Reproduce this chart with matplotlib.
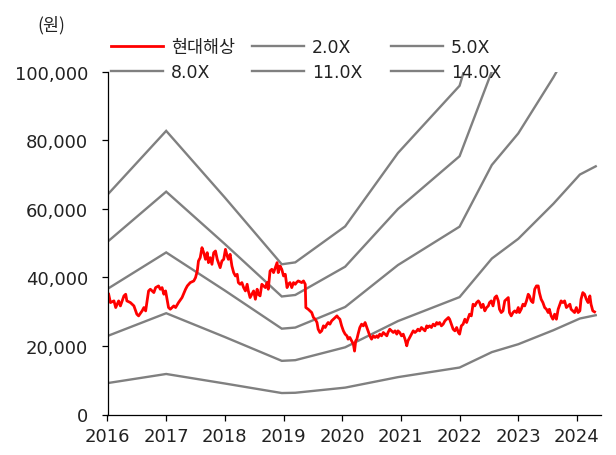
import matplotlib
matplotlib.use("Agg")
import matplotlib.pyplot as plt
from matplotlib.ticker import FuncFormatter

plt.rcParams['font.family'] = ['DejaVu Sans', 'Noto Sans CJK KR']

# ---------------- data ----------------
price_dates = [
    2016.02, 2016.05, 2016.11, 2016.14, 2016.19, 2016.22, 2016.28, 2016.31, 2016.33, 2016.39,
    2016.45, 2016.50, 2016.53, 2016.59, 2016.62, 2016.65, 2016.67, 2016.70, 2016.73, 2016.79,
    2016.82, 2016.87, 2016.90, 2016.93, 2016.96, 2016.99, 2017.02, 2017.04, 2017.07, 2017.13,
    2017.16, 2017.21, 2017.27, 2017.33, 2017.36, 2017.41, 2017.47, 2017.50, 2017.53, 2017.55,
    2017.58, 2017.61, 2017.64, 2017.67, 2017.70, 2017.72, 2017.75, 2017.78, 2017.81, 2017.84,
    2017.87, 2017.89, 2017.92, 2017.95, 2017.98, 2018.01, 2018.04, 2018.06, 2018.09, 2018.12,
    2018.15, 2018.18, 2018.21, 2018.23, 2018.26, 2018.29, 2018.32, 2018.35, 2018.38, 2018.40,
    2018.43, 2018.46, 2018.49, 2018.52, 2018.55, 2018.57, 2018.60, 2018.63, 2018.66, 2018.69,
    2018.72, 2018.74, 2018.77, 2018.80, 2018.83, 2018.86, 2018.89, 2018.91, 2018.94, 2018.97,
    2019.00, 2019.03, 2019.06, 2019.08, 2019.11, 2019.14, 2019.17, 2019.20, 2019.22, 2019.25,
    2019.31, 2019.34, 2019.37, 2019.38, 2019.42, 2019.45, 2019.48, 2019.51, 2019.54, 2019.57,
    2019.59, 2019.62, 2019.65, 2019.68, 2019.71, 2019.74, 2019.76, 2019.79, 2019.82, 2019.85,
    2019.88, 2019.91, 2019.93, 2019.96, 2019.99, 2020.02, 2020.05, 2020.08, 2020.10, 2020.13,
    2020.16, 2020.19, 2020.21, 2020.23, 2020.25, 2020.27, 2020.30, 2020.33, 2020.36, 2020.39,
    2020.42, 2020.44, 2020.47, 2020.50, 2020.53, 2020.56, 2020.59, 2020.61, 2020.64, 2020.67,
    2020.70, 2020.73, 2020.76, 2020.78, 2020.81, 2020.87, 2020.90, 2020.93, 2020.95, 2020.98,
    2021.01, 2021.04, 2021.07, 2021.10, 2021.12, 2021.15, 2021.18, 2021.21, 2021.24, 2021.27,
    2021.29, 2021.32, 2021.35, 2021.38, 2021.41, 2021.44, 2021.46, 2021.49, 2021.52, 2021.55,
    2021.58, 2021.61, 2021.63, 2021.66, 2021.69, 2021.72, 2021.75, 2021.78, 2021.81, 2021.83,
    2021.86, 2021.89, 2021.92, 2021.95, 2021.98, 2022.00, 2022.03, 2022.06, 2022.09, 2022.12,
    2022.15, 2022.17, 2022.20, 2022.23, 2022.26, 2022.29, 2022.32, 2022.34, 2022.37, 2022.40,
    2022.43, 2022.46, 2022.49, 2022.51, 2022.54, 2022.57, 2022.60, 2022.63, 2022.66, 2022.68,
    2022.71, 2022.74, 2022.77, 2022.80, 2022.83, 2022.85, 2022.88, 2022.91, 2022.94, 2022.97,
    2023.00, 2023.02, 2023.05, 2023.08, 2023.11, 2023.14, 2023.17, 2023.19, 2023.22, 2023.25,
    2023.28, 2023.31, 2023.34, 2023.36, 2023.39, 2023.42, 2023.45, 2023.48, 2023.51, 2023.53,
    2023.56, 2023.59, 2023.62, 2023.65, 2023.68, 2023.70, 2023.73, 2023.76, 2023.79, 2023.82,
    2023.85, 2023.88, 2023.90, 2023.93, 2023.96, 2023.99, 2024.02, 2024.05, 2024.07, 2024.10,
    2024.13, 2024.16, 2024.19, 2024.22, 2024.24, 2024.27, 2024.30,
]
price_values = [
    35080, 32650, 33140, 31200, 33140, 31680, 34600, 35080, 33140, 32650,
    31680, 29260, 28770, 30230, 31200, 30230, 32650, 36050, 36540, 35570,
    37020, 37510, 36540, 37020, 35080, 36050, 33140, 31200, 30710, 31680,
    31200, 32650, 34110, 36540, 37510, 38480, 38960, 39930, 41870, 44780,
    45750, 48670, 47210, 45270, 47210, 44300, 45750, 43810, 47210, 47700,
    45270, 44300, 42840, 44780, 45270, 48180, 46240, 45270, 46720, 43330,
    41390, 40420, 40900, 38480, 37990, 38480, 37020, 36050, 37990, 36050,
    34110, 35080, 36050, 33620, 36540, 35080, 34600, 37990, 37510, 37020,
    38480, 36540, 41870, 42360, 41390, 42840, 44300, 41390, 43330, 42360,
    40420, 40900, 37020, 37990, 38480, 37020, 38480, 37990, 38480, 38960,
    38480, 38960, 37990, 31200, 30710, 30230, 29740, 28290, 27800, 26830,
    24890, 23920, 24400, 25860, 25380, 26350, 26830, 26350, 27320, 27800,
    28290, 28770, 28290, 27800, 25860, 24400, 23440, 22950, 21980, 22470,
    21490, 20520, 18500, 21490, 21980, 23440, 25380, 26350, 25860, 26830,
    25380, 24400, 22950, 21980, 22950, 22470, 22950, 22470, 23440, 22950,
    23920, 23440, 22950, 23920, 24890, 23920, 24400, 23440, 24400, 23920,
    22950, 23440, 21980, 20040, 21490, 22470, 23440, 24400, 23920, 24400,
    24890, 24400, 25380, 24890, 24400, 25860, 25380, 25860, 25380, 26350,
    25860, 26830, 26350, 26830, 25860, 26350, 27320, 27800, 28290, 27800,
    26350, 24890, 24400, 25380, 23920, 23440, 25860, 26350, 27800, 26830,
    28290, 29260, 28770, 32170, 31680, 32650, 33140, 32650, 31200, 32170,
    30230, 31200, 31680, 32650, 33140, 31680, 34110, 34600, 33140, 30710,
    29740, 30230, 33140, 33620, 34110, 29740, 28770, 29740, 30230, 29740,
    31200, 29740, 30710, 32170, 31680, 33140, 35080, 34600, 33140, 32650,
    36540, 37510, 37510, 35560, 33620, 32650, 31200, 30710, 29740, 30710,
    28770, 27800, 29260, 27800, 30710, 31680, 33140, 32650, 33140, 31200,
    31680, 32170, 30710, 30230, 29740, 31200, 29740, 30230, 33620, 35560,
    35080, 33620, 32650, 34600, 32170, 30230, 29940,
]

# trailing EPS
eps_dates = [2016.0, 2017.0, 2018.0, 2018.97, 2019.2, 2020.05, 2020.95,
             2022.0, 2022.55, 2023.0, 2023.6, 2024.05, 2024.32]
eps_values = [4580, 5910, 4520, 3130, 3170, 3920, 5450,
              6850, 9100, 10250, 12300, 14000, 14480]

multiples = [2.0, 5.0, 8.0, 11.0, 14.0]
band_labels = ['2.0X', '5.0X', '8.0X', '11.0X', '14.0X']
price_label = '현대해상'

years = list(range(2016, 2025))
yticks = [0, 20000, 40000, 60000, 80000, 100000]

# ---------------- figure ----------------
W, H = 616, 456
fig = plt.figure(figsize=(W / 100, H / 100), dpi=100)
ax = fig.add_axes([107.5 / W, 1 - 415.5 / H, (601 - 107.5) / W, (415.5 - 72.7) / H])

gray = '#808080'
band_lines = {}
for m, lab in zip(multiples, band_labels):
    ln, = ax.plot(eps_dates, [m * e for e in eps_values], color=gray, lw=1.7,
                  solid_joinstyle='miter', label=lab)
    band_lines[lab] = ln
price_line, = ax.plot(price_dates, price_values, color='#ff0000', lw=2.0, label=price_label)

ax.set_xlim(2016, 2024.41)
ax.set_ylim(0, 100000)
ax.set_xticks(years)
ax.set_xticklabels([str(y) for y in years])
ax.set_yticks(yticks)
ax.yaxis.set_major_formatter(FuncFormatter(lambda v, p: f'{int(v):,}'))

for s in ['top', 'right']:
    ax.spines[s].set_visible(False)
for s in ['left', 'bottom']:
    ax.spines[s].set_linewidth(0.9)
    ax.spines[s].set_color('black')

ax.tick_params(axis='x', direction='out', length=4, width=0.9, labelsize=13,
               pad=5, colors='black', labelcolor='#222222')
ax.tick_params(axis='y', direction='out', length=4, width=0.9, labelsize=13,
               pad=10, colors='black', labelcolor='#222222')

# legend: three columns, built as three legends
cols = [
    ([price_line, band_lines['8.0X']], [price_label, '8.0X'], 111),
    ([band_lines['2.0X'], band_lines['11.0X']], ['2.0X', '11.0X'], 252),
    ([band_lines['5.0X'], band_lines['14.0X']], ['5.0X', '14.0X'], 391),
]
for handles, labels, xpx in cols:
    leg = fig.legend(handles, labels, loc='upper left',
                     bbox_to_anchor=(xpx / W, 1 - 39 / H),
                     frameon=False, borderpad=0, borderaxespad=0,
                     handlelength=3.0, handletextpad=0.45, labelspacing=0.38,
                     fontsize=12.5)
    for t in leg.get_texts():
        t.set_color('#222222')

fig.text(37 / W, 1 - 25 / H, '(원)', fontsize=12.5, color='#222222',
         ha='left', va='center', family=['Noto Sans CJK KR', 'DejaVu Sans'])

fig.savefig('out.png', dpi=100)
